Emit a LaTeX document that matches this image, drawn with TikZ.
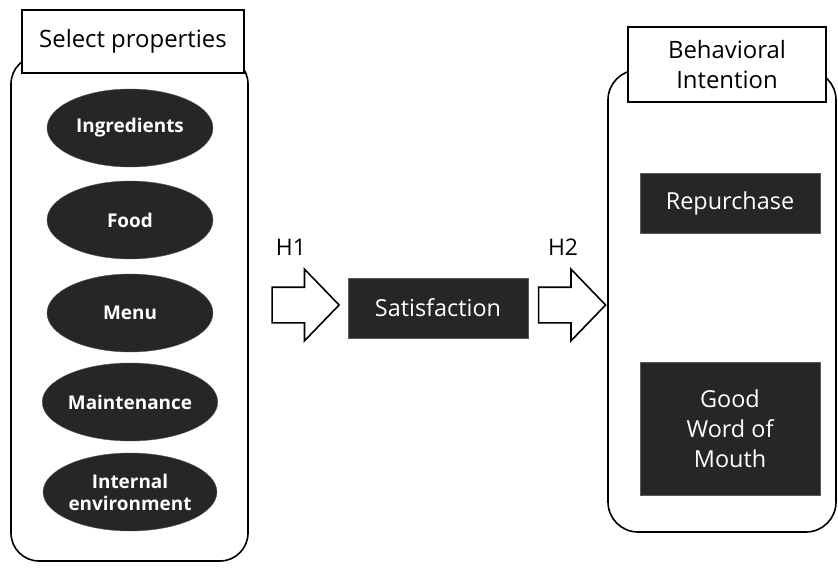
\documentclass[tikz,border=0pt]{standalone}
\usepackage{fontspec}
\setmainfont{Open Sans}
\usetikzlibrary{shapes.geometric,shapes.arrows,positioning}
\definecolor{cdark}{HTML}{262626}
\definecolor{cedge}{HTML}{5A5A5A}
\tikzset{
  grp/.style={rectangle, rounded corners=28bp, draw=black, line width=1.6bp},
  ttl/.style={rectangle, draw=black, fill=white, line width=2.2bp, align=center,
              font=\fontsize{24}{30}\selectfont, inner sep=0pt},
  prop/.style={ellipse, draw=cedge, fill=cdark, text=white, align=center,
               font=\bfseries\fontsize{19}{22}\selectfont,
               minimum width=166bp, minimum height=78bp, inner sep=0pt},
  res/.style={rectangle, draw=cedge, fill=cdark, text=white, align=center,
              font=\fontsize{23.5}{30}\selectfont, minimum width=180bp, inner sep=0pt},
  harr/.style={single arrow, draw=black, line width=1.6bp, fill=white,
               minimum height=67bp, minimum width=70bp, single arrow head extend=18bp,
               single arrow tip angle=92, inner xsep=0pt, inner ysep=17bp},
  hyp/.style={font=\fontsize{23}{26}\selectfont}
}

\begin{document}
\begin{tikzpicture}[x=1bp, y=-1bp]
\useasboundingbox (0,0) rectangle (838,571);

% select properties
\node[grp, minimum width=237bp, minimum height=505bp] (grpL) at (129.5,308.5) {};
\node[ttl, minimum width=222bp, minimum height=63bp] (ttlL) at (133,41.5) {Select properties};

\node[prop] (ingr) at (130,128) {Ingredients};
\node[prop] (food) at (130,220) {Food};
\node[prop] (menu) at (130,313) {Menu};
\node[prop] (mnt) at (130,402) {Maintenance};
\node[prop] (env) at (130,492) {Internal\\environment};

% hypotheses
\node[harr] (arrH1) at (297,305) {};
\node[hyp] (lblH1) at (291,247) {H1};
\node[res, minimum height=60bp] (sat) at (438,308) {Satisfaction};
\node[harr] (arrH2) at (563.5,305) {};
\node[hyp] (lblH2) at (563,247) {H2};

% behavioral intention
\node[grp, rounded corners=30bp, minimum width=228bp, minimum height=462bp] (grpR) at (722,301) {};
\node[ttl, minimum width=198bp, minimum height=75bp] (ttlR) at (727,64.5) {Behavioral\\Intention};

\node[res, minimum height=60bp] (rep) at (730,203) {Repurchase};
\node[res, minimum height=133bp] (wom) at (730,428.5) {Good\\Word of\\Mouth};

\end{tikzpicture}
\end{document}
